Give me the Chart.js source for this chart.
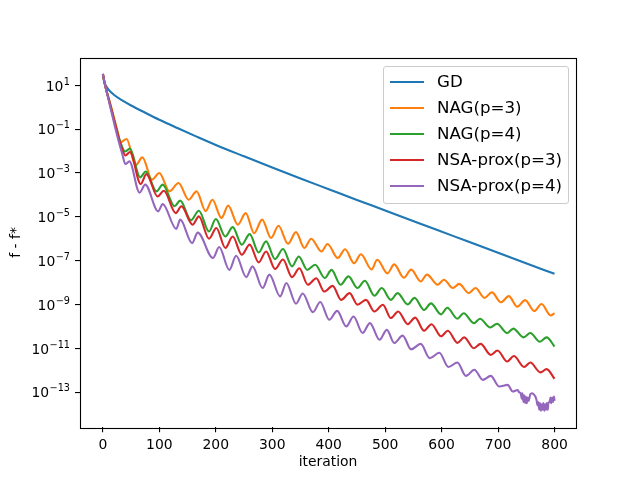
<!DOCTYPE html>
<html><head><meta charset="utf-8">
<script src="https://cdn.jsdelivr.net/npm/chart.js@4.4.1/dist/chart.umd.min.js"></script>
<style>
html,body{margin:0;padding:0;background:#fff;}
#wrap{position:relative;width:640px;height:480px;}
#legend{position:absolute;left:383px;top:66px;width:186px;height:138px;box-sizing:border-box;border:1px solid #cccccc;border-radius:3px;background:rgba(255,255,255,0.8);font-family:'DejaVu Sans';font-size:16.67px;color:#000;}
.row{position:absolute;left:0;height:26px;width:100%;}
.sw{position:absolute;left:6px;top:12px;width:34px;height:2px;}
.lb{position:absolute;left:53px;top:0;line-height:26px;white-space:nowrap;}
</style></head>
<body><div id="wrap"><canvas id="c" width="640" height="480"></canvas><div id="legend"></div></div>
<script>
// ---- data (y values stored as log10 exponents) ----
const seriesNames = ['GD','NAG(p=3)','NAG(p=4)','NSA-prox(p=3)','NSA-prox(p=4)'];

const gdIter = [0,2,5,10,20,35,50,75,100,133,166,200,250,300,350,400,450,500,560,620,680,740,800];
const gdLog  = [1.52,1.2,1.0,0.8,0.56,0.3,0.08,-0.25,-0.57,-0.96,-1.34,-1.72,-2.24,-2.75,-3.25,-3.74,-4.23,-4.71,-5.29,-5.87,-6.45,-7.03,-7.6];

const nag3Iter = [0,4,10,16,22,27,31,42,58,70,87,100,118,134,152,166,182,194,210,222,239,253,268,282,298,311,328,342,357,369,387,398,416,429,445,457,476,486,504,516,533,546,563,574,593,604,620,631,648,660,676,689,705,719,734,748,764,777,793,800];
const nag3Log  = [1.52,1.0,0.45,-0.1,-0.7,-1.2,-1.6,-1.45,-2.65,-2.29,-3.3,-3.0,-3.84,-3.46,-4.22,-3.84,-4.74,-4.22,-5.05,-4.49,-5.36,-4.83,-5.75,-5.13,-5.97,-5.41,-6.23,-5.7,-6.42,-6.0,-6.58,-6.24,-6.88,-6.48,-7.12,-6.71,-7.4,-6.96,-7.58,-7.17,-7.78,-7.41,-7.95,-7.64,-8.1,-7.87,-8.25,-8.06,-8.48,-8.25,-8.7,-8.45,-8.9,-8.62,-9.1,-8.8,-9.3,-8.98,-9.5,-9.4];

const nag4Iter = [0,4,10,16,22,28,34,39,48,66,76,95,106,127,137,156,170,188,200,217,230,246,260,276,289,305,319,335,347,362,376,393,405,421,435,451,464,481,494,510,522,540,552,569,581,599,610,628,639,657,668,686,698,716,727,745,757,774,786,800];
const nag4Log  = [1.52,1.0,0.4,-0.2,-0.8,-1.35,-1.8,-2.02,-1.89,-3.2,-2.93,-3.84,-3.53,-4.52,-4.26,-5.15,-4.72,-5.67,-5.1,-5.9,-5.47,-6.27,-5.79,-6.63,-6.12,-6.93,-6.47,-7.26,-6.81,-7.42,-7.19,-7.79,-7.42,-8.1,-7.72,-8.25,-7.92,-8.6,-8.25,-8.79,-8.48,-9.0,-8.7,-9.25,-8.95,-9.45,-9.15,-9.65,-9.4,-9.85,-9.65,-10.05,-9.88,-10.3,-10.1,-10.5,-10.3,-10.7,-10.5,-10.92];

const nsa3Iter = [0,4,10,16,22,28,34,40,48,67,77,97,108,129,139,159,170,188,201,217,230,246,260,276,289,305,319,335,348,363,378,392,407,422,437,451,466,481,496,510,523,540,553,569,582,599,611,628,640,657,669,687,699,716,728,746,757,775,786,800];
const nsa3Log  = [1.52,1.0,0.4,-0.2,-0.8,-1.4,-1.9,-2.2,-2.04,-3.5,-3.05,-4.07,-3.81,-4.83,-4.52,-5.36,-4.98,-6.0,-5.51,-6.42,-5.9,-6.73,-6.27,-7.08,-6.58,-7.38,-6.95,-7.75,-7.35,-8.1,-7.8,-8.41,-8.15,-8.79,-8.48,-9.01,-8.79,-9.32,-9.01,-9.62,-9.32,-9.9,-9.6,-10.2,-9.9,-10.45,-10.2,-10.75,-10.5,-11.0,-10.8,-11.3,-11.1,-11.6,-11.35,-11.85,-11.65,-12.1,-11.95,-12.39];

const nsa4Iter = [0,4,10,16,22,28,34,40,47,65,75,98,106,130,137,158,168,195,206,224,236,254,265,283,295,314,325,342,354,372,385,401,415,431,444,460,473,490,503,516,531,546,563,579,596,612,628,643,658,673,687,702,717,726,735,737,740,742,743,745,746,748,749,751,752,754,757,760,763,766,768,770,771,773,774,776,777,779,780,782,783,785,786,788,789,791,793,794,796,797,799,800];
const nsa4Log  = [1.52,1.0,0.35,-0.3,-0.95,-1.55,-2.1,-2.59,-2.47,-3.9,-3.53,-4.75,-4.42,-5.55,-5.13,-6.2,-5.72,-6.88,-6.38,-7.42,-6.78,-7.75,-7.26,-8.25,-7.64,-8.63,-8.02,-8.96,-8.5,-9.35,-8.89,-9.7,-9.29,-10.0,-9.55,-10.3,-9.85,-10.61,-10.16,-10.76,-10.42,-11.05,-10.8,-11.45,-11.2,-11.85,-11.65,-12.26,-11.98,-12.44,-12.26,-12.74,-12.67,-12.97,-12.9,-13.0,-13.05,-13.3,-13.05,-13.45,-13.15,-13.5,-13.2,-13.5,-13.25,-13.4,-13.1,-13.05,-13.1,-13.2,-13.35,-13.6,-13.45,-13.8,-13.5,-13.85,-13.55,-13.8,-13.5,-13.85,-13.55,-13.8,-13.5,-13.8,-13.5,-13.45,-13.25,-13.5,-13.25,-13.45,-13.2,-13.4];

const xTickValues = [0,100,200,300,400,500,600,700,800];
const yTickValues = [1e1,1e-1,1e-3,1e-5,1e-7,1e-9,1e-11,1e-13];
const yTickBase = '10';
const yTickExps = ['1','\u22121','\u22123','\u22125','\u22127','\u22129','\u221211','\u221213'];

// ---- styles ----
const seriesColors = ['#1f77b4','#ff7f0e','#2ca02c','#d62728','#9467bd'];
const FONT = "'DejaVu Sans'";

const toPts = (xs, es) => xs.map((x, i) => ({x: x, y: Math.pow(10, es[i])}));
const seriesData = [toPts(gdIter, gdLog), toPts(nag3Iter, nag3Log), toPts(nag4Iter, nag4Log), toPts(nsa3Iter, nsa3Log), toPts(nsa4Iter, nsa4Log)];

Chart.defaults.font.family = FONT;
Chart.defaults.font.size = 13.9;
Chart.defaults.color = '#000';

const framePlugin = {
  id: 'frame',
  afterDraw(chart) {
    const {ctx, chartArea: a} = chart;
    ctx.save();
    ctx.strokeStyle = '#000';
    ctx.lineWidth = 1.1;
    ctx.strokeRect(Math.round(a.left) + 0.5, Math.round(a.top) + 0.5, Math.round(a.right - a.left), Math.round(a.bottom - a.top));
    // y tick labels as 10 with a raised exponent
    const ys = chart.scales.y;
    const right = 70;
    ctx.fillStyle = '#000';
    ctx.textBaseline = 'alphabetic';
    ctx.textAlign = 'left';
    yTickValues.forEach((v, i) => {
      const y = ys.getPixelForValue(v);
      ctx.font = '9.7px ' + FONT;
      const wE = ctx.measureText(yTickExps[i]).width;
      ctx.font = '13.9px ' + FONT;
      const wB = ctx.measureText(yTickBase).width;
      const x0 = right - wE - wB - 0.5;
      ctx.fillText(yTickBase, x0, y + 5.3);
      ctx.font = '9.7px ' + FONT;
      ctx.fillText(yTickExps[i], x0 + wB + 0.5, y - 0.8);
    });
    ctx.restore();
  }
};

const tickGrid = {display: true, drawOnChartArea: false, drawTicks: true, tickLength: 5, color: '#000', lineWidth: 1.1};

const chart = new Chart(document.getElementById('c'), {
  type: 'line',
  data: {
    datasets: seriesNames.map((name, i) => ({
      label: name,
      data: seriesData[i],
      borderColor: seriesColors[i],
      backgroundColor: seriesColors[i],
      borderWidth: 2.1,
      pointRadius: 0,
      fill: false,
      cubicInterpolationMode: 'monotone',
      order: seriesNames.length - 1 - i
    }))
  },
  options: {
    responsive: false,
    animation: false,
    devicePixelRatio: 1,
    layout: {padding: {left: 0, top: 57.6, right: 64, bottom: 0}},
    plugins: {legend: {display: false}, tooltip: {enabled: false}},
    scales: {
      x: {
        type: 'linear', min: -40.5, max: 838,
        afterBuildTicks: s => { s.ticks = xTickValues.map(v => ({value: v})); },
        afterFit: s => { s.height = 52.8; },
        ticks: {padding: 5, maxRotation: 0, autoSkip: false, callback: v => String(v)},
        grid: tickGrid,
        border: {display: false},
        title: {display: true, text: 'iteration', padding: {top: 0, bottom: 9.5}}
      },
      y: {
        type: 'logarithmic', min: Math.pow(10, -14.6), max: Math.pow(10, 2.265),
        afterBuildTicks: s => { s.ticks = yTickValues.map(v => ({value: v})); },
        afterFit: s => { s.width = 80; },
        ticks: {display: false},
        grid: tickGrid,
        border: {display: false},
        title: {display: true, text: 'f - f*', padding: {top: 8, bottom: 0}}
      }
    }
  },
  plugins: [framePlugin]
});

// HTML legend built from the chart datasets
const leg = document.getElementById('legend');
chart.data.datasets.forEach((ds, i) => {
  const row = document.createElement('div');
  row.className = 'row';
  row.style.top = (1.7 + 26.1 * i) + 'px';
  const sw = document.createElement('div');
  sw.className = 'sw';
  sw.style.background = ds.borderColor;
  const lb = document.createElement('span');
  lb.className = 'lb';
  lb.textContent = ds.label;
  row.appendChild(sw);
  row.appendChild(lb);
  leg.appendChild(row);
});
</script></body></html>
